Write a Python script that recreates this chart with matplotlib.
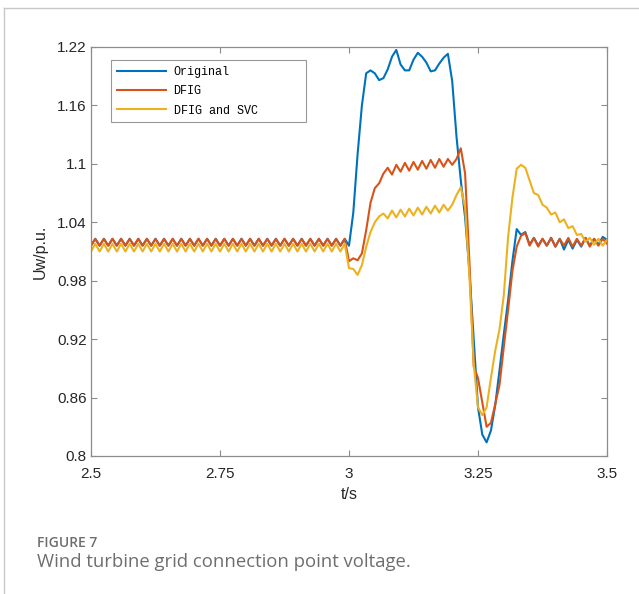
import numpy as np
import matplotlib
matplotlib.use("Agg")
import matplotlib.pyplot as plt
from matplotlib.lines import Line2D

# Sample times: 2.5 s to 3.5 s in steps of 1/120 s (121 samples)
t = np.arange(121) / 120.0 + 2.5

# Steady-state part (2.5 s .. 2.9917 s) shared shape, then the transient
base_dfig = [1.016, 1.023] * 30
base_svc = [1.010, 1.018] * 30

original_tail = [
    1.016, 1.050, 1.110, 1.160, 1.193, 1.196, 1.193, 1.186, 1.188, 1.197,
    1.210, 1.217, 1.202, 1.196, 1.196, 1.207, 1.214, 1.210, 1.204, 1.195,
    1.196, 1.203, 1.209, 1.213, 1.185, 1.128, 1.083, 1.045, 0.990, 0.920,
    0.850, 0.822, 0.814, 0.826, 0.852, 0.888, 0.925, 0.960, 1.000, 1.033,
    1.027, 1.030, 1.017, 1.024, 1.016, 1.023, 1.016, 1.024, 1.015, 1.023,
    1.012, 1.022, 1.013, 1.022, 1.015, 1.024, 1.016, 1.023, 1.017, 1.025,
    1.022,
]
dfig_tail = [
    1.000, 1.003, 1.001, 1.008, 1.032, 1.060, 1.075, 1.080, 1.090, 1.096,
    1.089, 1.099, 1.092, 1.101, 1.093, 1.102, 1.094, 1.103, 1.095, 1.104,
    1.096, 1.105, 1.097, 1.105, 1.099, 1.105, 1.116, 1.090, 1.000, 0.892,
    0.880, 0.855, 0.830, 0.834, 0.853, 0.873, 0.912, 0.950, 0.990, 1.015,
    1.026, 1.029, 1.016, 1.024, 1.015, 1.023, 1.016, 1.024, 1.015, 1.023,
    1.016, 1.024, 1.015, 1.023, 1.016, 1.024, 1.015, 1.023, 1.016, 1.023,
    1.018,
]
svc_tail = [
    0.993, 0.992, 0.986, 0.996, 1.015, 1.030, 1.040, 1.046, 1.049, 1.044,
    1.052, 1.045, 1.053, 1.046, 1.054, 1.047, 1.055, 1.048, 1.056, 1.049,
    1.057, 1.050, 1.058, 1.052, 1.058, 1.068, 1.076, 1.055, 0.985, 0.895,
    0.850, 0.842, 0.850, 0.880, 0.908, 0.930, 0.965, 1.025, 1.065, 1.095,
    1.099, 1.096, 1.083, 1.070, 1.068, 1.058, 1.055, 1.048, 1.050, 1.040,
    1.043, 1.034, 1.036, 1.027, 1.028, 1.020, 1.024, 1.017, 1.023, 1.016,
    1.022,
]

original = base_dfig + original_tail
dfig = base_dfig + dfig_tail
dfig_svc = base_svc + svc_tail

series_names = ["Original", "DFIG", "DFIG and SVC"]
series_colors = ["#0072BD", "#D95319", "#EDB120"]

x_ticks = [2.5, 2.75, 3.0, 3.25, 3.5]
x_tick_labels = ["2.5", "2.75", "3", "3.25", "3.5"]
y_ticks = [0.8, 0.86, 0.92, 0.98, 1.04, 1.1, 1.16, 1.22]
y_tick_labels = ["0.8", "0.86", "0.92", "0.98", "1.04", "1.1", "1.16", "1.22"]

fig = plt.figure(figsize=(6.39, 5.94), dpi=100)
fig.patch.set_facecolor("white")

# light page frame around the figure block
frame_color = "#c8c8c8"
fig.add_artist(Line2D([4 / 639, 1.0], [1 - 8 / 594, 1 - 8 / 594],
                      transform=fig.transFigure, color=frame_color, lw=1.0))
fig.add_artist(Line2D([4 / 639, 4 / 639], [1 - 8 / 594, 0.0],
                      transform=fig.transFigure, color=frame_color, lw=1.0))

ax = fig.add_axes([91 / 639, 1 - 456 / 594, (607 - 91) / 639, (456 - 47) / 594])

for vals, name, col in zip([original, dfig, dfig_svc], series_names, series_colors):
    ax.plot(t, vals, color=col, lw=1.5, label=name, solid_joinstyle="round")

ax.set_xlim(2.5, 3.5)
ax.set_ylim(0.8, 1.22)
ax.set_xticks(x_ticks)
ax.set_xticklabels(x_tick_labels)
ax.set_yticks(y_ticks)
ax.set_yticklabels(y_tick_labels)

axis_gray = "#8c8c8c"
for s in ax.spines.values():
    s.set_color(axis_gray)
    s.set_linewidth(0.9)
ax.tick_params(direction="in", length=4, width=0.8, color=axis_gray,
               top=True, right=True, labelsize=11, labelcolor="#262626", pad=3)
ax.tick_params(axis="x", pad=8)
for lab in ax.get_xticklabels() + ax.get_yticklabels():
    lab.set_family("Liberation Sans")

ax.set_xlabel("t/s", fontsize=11.5, family="Liberation Sans", color="#262626", labelpad=4)
ax.set_ylabel("Uw/p.u.", fontsize=11.5, family="Liberation Sans", color="#262626", labelpad=7)

leg = ax.legend(loc="upper left",
                bbox_to_anchor=(20 / 516, 1 - 13 / 409, 195 / 516, 0.0),
                mode="expand",
                prop={"family": "Liberation Mono", "size": 8.5},
                frameon=True, fancybox=False, handlelength=4.2, handletextpad=0.6,
                borderpad=0.5, labelspacing=0.62, borderaxespad=0.0)
leg.get_frame().set_edgecolor("#7f7f7f")
leg.get_frame().set_linewidth(0.8)

fig.text(37 / 639, 1 - 543 / 594, "FIGURE 7", fontsize=10, family="Open Sans",
         color="#6e6e6e", weight="semibold", va="center")
fig.text(37 / 639, 1 - 562 / 594, "Wind turbine grid connection point voltage.",
         fontsize=13.3, family="Open Sans", color="#6e6e6e", va="center")

fig.savefig("out.png", dpi=100, facecolor="white")
